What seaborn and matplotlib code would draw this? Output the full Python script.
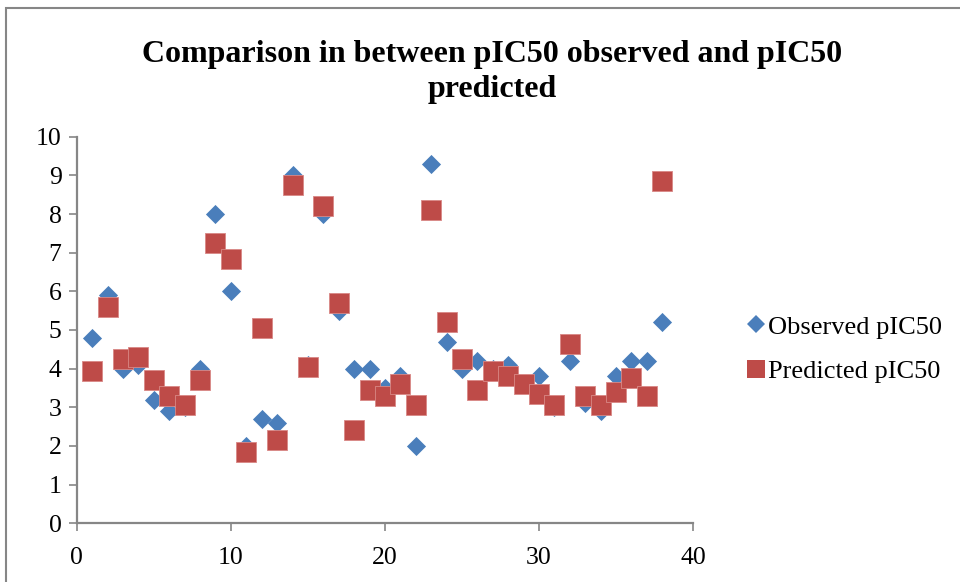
import matplotlib
matplotlib.use("Agg")
import matplotlib.pyplot as plt
import seaborn as sns
import pandas as pd
from matplotlib.patches import Rectangle
from matplotlib.lines import Line2D

compound = list(range(1, 39))
observed = [4.8, 5.9, 4.0, 4.1, 3.2, 2.9, 3.0, 4.0, 8.0, 6.0,
            2.0, 2.7, 2.6, 9.0, 4.1, 8.0, 5.5, 4.0, 4.0, 3.5,
            3.8, 2.0, 9.3, 4.7, 4.0, 4.2, 4.0, 4.1, 3.6, 3.8,
            3.0, 4.2, 3.1, 2.9, 3.8, 4.2, 4.2, 5.2]
predicted = [3.95, 5.6, 4.25, 4.3, 3.7, 3.3, 3.05, 3.7, 7.25, 6.85,
             1.85, 5.05, 2.15, 8.75, 4.05, 8.2, 5.7, 2.4, 3.45, 3.3,
             3.6, 3.05, 8.1, 5.2, 4.25, 3.45, 3.95, 3.8, 3.6, 3.35,
             3.05, 4.65, 3.3, 3.05, 3.4, 3.75, 3.3, 8.85]
series_names = ["Observed pIC50", "Predicted pIC50"]
x_ticks = [0, 10, 20, 30, 40]
y_ticks = list(range(0, 11))
title = "Comparison in between pIC50 observed and pIC50\npredicted"

blue = "#4A7EBB"
red = "#BE4B48"
grey = "#868686"

sns.set_theme(style="white")
plt.rcParams["font.family"] = ["Liberation Serif", "DejaVu Serif"]
plt.rcParams["text.color"] = "black"

df_obs = pd.DataFrame({"x": compound, "y": observed})
df_pred = pd.DataFrame({"x": compound, "y": predicted})

fig = plt.figure(figsize=(9.6, 5.82), dpi=100)
ax = fig.add_axes([0.080, 0.101, 0.642, 0.664])

sns.scatterplot(data=df_obs, x="x", y="y", marker="D", s=95, color=blue,
                linewidth=0, ax=ax, zorder=3)
sns.scatterplot(data=df_pred, x="x", y="y", marker="s", s=200, color=red,
                edgecolor="#D98886", linewidth=0.6, ax=ax, zorder=4)

ax.set_xlim(0, 40)
ax.set_ylim(0, 10)
ax.set_xticks(x_ticks)
ax.set_yticks(y_ticks)
ax.set_xlabel("")
ax.set_ylabel("")
for side in ["top", "right"]:
    ax.spines[side].set_visible(False)
for side in ["left", "bottom"]:
    ax.spines[side].set_color(grey)
    ax.spines[side].set_linewidth(1.6)
ax.tick_params(axis="both", which="major", direction="out", length=6,
               width=1.2, color=grey, labelsize=18.5, labelcolor="black",
               left=True, bottom=True)
ax.tick_params(axis="x", pad=11)
ax.tick_params(axis="y", pad=5)
ax.grid(False)
for coll in ax.collections:
    coll.set_clip_on(False)

fig.suptitle(title, x=0.513, y=0.932, va="top", fontsize=23,
             fontweight="bold", linespacing=1.3, color="black")

handles = [
    Line2D([], [], marker="D", linestyle="none", markersize=8.7,
           markerfacecolor=blue, markeredgewidth=0),
    Line2D([], [], marker="s", linestyle="none", markersize=13,
           markerfacecolor=red, markeredgewidth=0),
]
fig.legend(handles, series_names, loc="center left",
           bbox_to_anchor=(0.778, 0.4), frameon=False, fontsize=19,
           handlelength=0.7, handletextpad=0.1, labelspacing=0.8,
           borderaxespad=0, borderpad=0, labelcolor="black")

# chart area outline
fig.patches.append(Rectangle((0.006, -0.05), 1.05, 1.036,
                             transform=fig.transFigure, fill=False,
                             edgecolor=grey, linewidth=1.5))

fig.savefig("out.png", dpi=100)
